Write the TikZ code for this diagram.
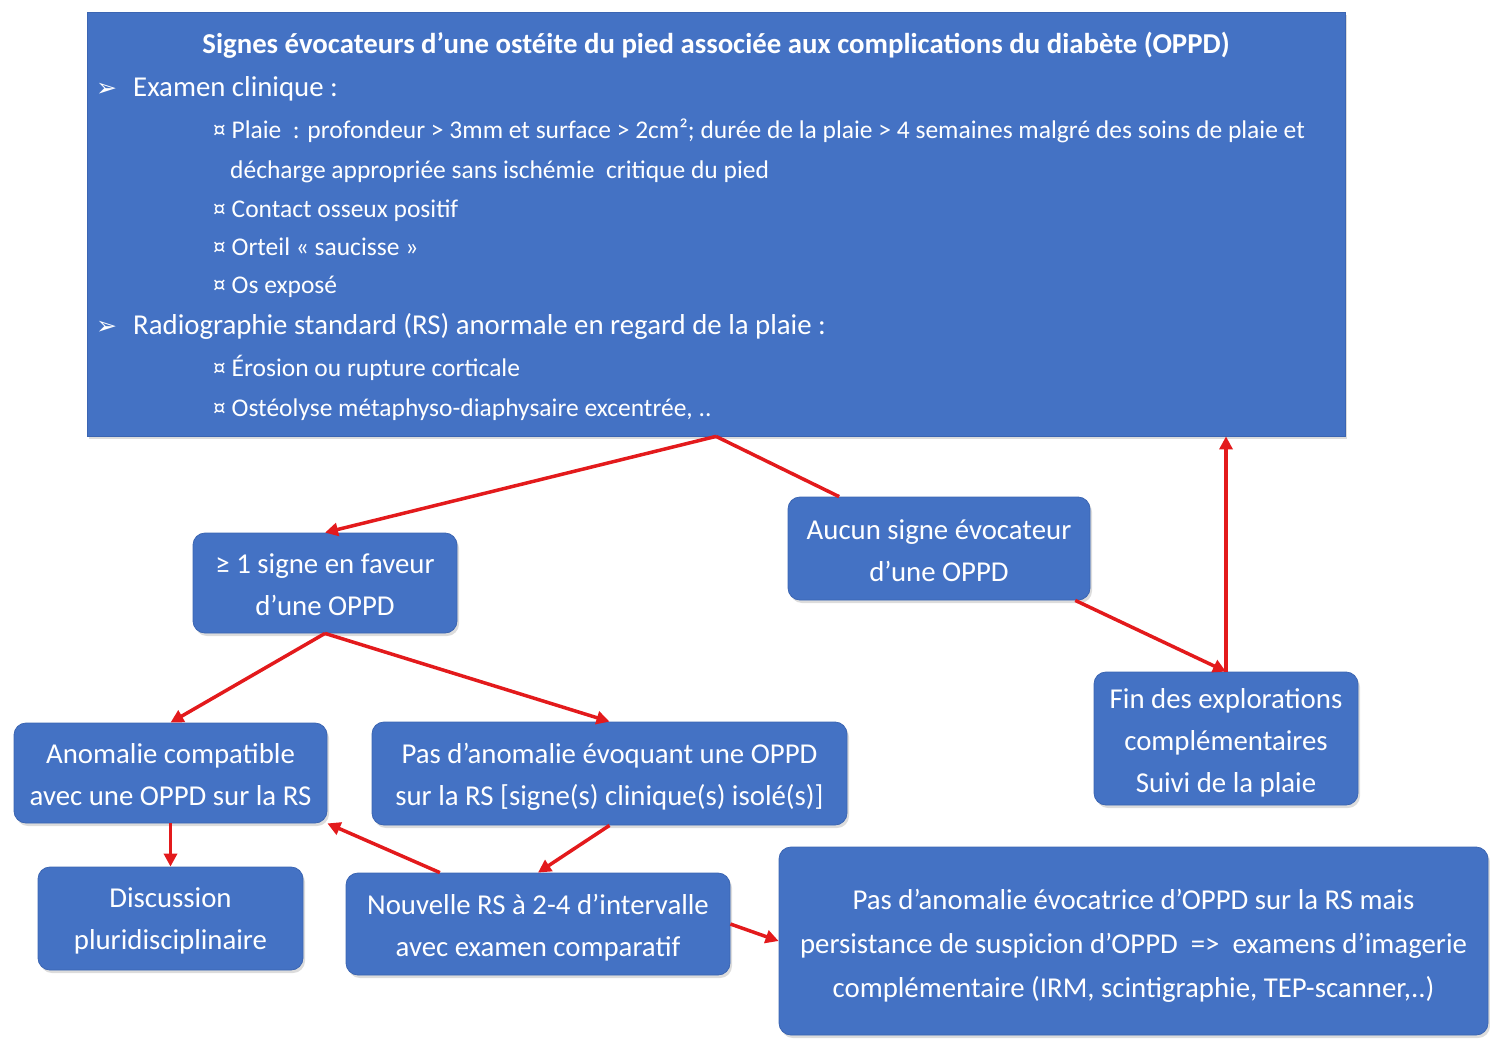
\documentclass[tikz,border=0pt]{standalone}
\usepackage{fontspec}
\setmainfont{Carlito}
\newfontfamily\symfont{DejaVu Sans}
\usetikzlibrary{arrows.meta,calc,shadows}
\definecolor{boxblue}{HTML}{4472C4}
\definecolor{boxedge}{HTML}{3B65B2}
\definecolor{arrowred}{HTML}{E31A1C}

\begin{document}
\begin{tikzpicture}[x=1pt,y=-1pt,
  shade box/.style={fill=boxblue, draw=boxedge, line width=0.8pt, text=white,
    inner sep=0pt, drop shadow={opacity=0.28, shadow xshift=2pt, shadow yshift=-3pt}},
  box/.style={shade box, rounded corners=12pt},
  boxtext/.style={text=white, inner sep=0pt, align=center,
    font=\fontsize{28.8}{42}\selectfont},
  txtline/.style={anchor=base west, text=white, inner sep=0pt},
  head/.style={txtline, font=\fontsize{28.8}{34}\selectfont},
  subitem/.style={txtline, font=\fontsize{25.5}{30}\selectfont},
  bullet/.style={txtline, font=\symfont\fontsize{25}{30}\selectfont},
  link/.style={draw=arrowred, line width=3.5pt},
  flow/.style={link, -{Triangle[length=13pt,width=13pt]}}]

\useasboundingbox (0,0) rectangle (1490,1038);

% criteria panel
\node[shade box, minimum width=1258pt, minimum height=424pt] (top) at (716,224) {};
\node[anchor=base, text=white, inner sep=0pt, font=\bfseries\fontsize{28.8}{34}\selectfont] (title) at (716,54)
  {Signes évocateurs d’une ostéite du pied associée aux complications du diabète (OPPD)};
\node[bullet] (b1) at (96,97) {➢};
\node[head] (exam) at (133,97) {Examen clinique :};
\node[subitem] (i1) at (213,139) {¤ Plaie \ : profondeur > 3mm et surface > 2cm²; durée de la plaie > 4 semaines malgré des soins de plaie et};
\node[subitem] (i1b) at (230,178) {décharge appropriée sans ischémie \ critique du pied};
\node[subitem] (i2) at (213,217) {¤ Contact osseux positif};
\node[subitem] (i3) at (213,255) {¤ Orteil « saucisse »};
\node[subitem] (i4) at (213,293) {¤ Os exposé};
\node[bullet] (b2) at (96,334) {➢};
\node[head] (radio) at (133,334) {Radiographie standard (RS) anormale en regard de la plaie :};
\node[subitem] (i5) at (213,376) {¤ Érosion ou rupture corticale};
\node[subitem] (i6) at (213,416) {¤ Ostéolyse métaphyso-diaphysaire excentrée, ..};

% decision boxes
\node[box, minimum width=264pt, minimum height=100pt] (signe) at (325,583) {};
\node[box, minimum width=302pt, minimum height=103pt] (aucun) at (939,548.5) {};
\node[box, minimum width=313pt, minimum height=100pt] (anom) at (170.5,773) {};
\node[box, minimum width=475pt, minimum height=103pt] (pas) at (609.5,773.5) {};
\node[box, minimum width=264pt, minimum height=133pt] (fin) at (1226,738.5) {};
\node[box, minimum width=265pt, minimum height=103pt] (disc) at (170.5,918.5) {};
\node[box, minimum width=384pt, minimum height=102pt] (nouv) at (538,924) {};
\node[box, minimum width=709pt, minimum height=188pt] (big) at (1133.5,941) {};

% box texts
\node[boxtext] (signe-t) at ([yshift=-2pt]signe.center) {≥ 1 signe en faveur\\d’une OPPD};
\node[boxtext] (aucun-t) at ([yshift=-2pt]aucun.center) {Aucun signe évocateur\\d’une OPPD};
\node[boxtext] (anom-t) at ([yshift=-2pt]anom.center) {Anomalie compatible\\avec une OPPD sur la RS};
\node[boxtext] (pas-t) at ([yshift=-3pt]pas.center) {Pas d’anomalie évoquant une OPPD\\sur la RS [signe(s) clinique(s) isolé(s)]};
\node[boxtext] (fin-t) at ([yshift=-4pt]fin.center) {Fin des explorations\\complémentaires\\Suivi de la plaie};
\node[boxtext] (disc-t) at ([yshift=-2pt]disc.center) {Discussion\\pluridisciplinaire};
\node[boxtext] (nouv-t) at ([yshift=-4pt]nouv.center) {Nouvelle RS à 2-4 d’intervalle\\avec examen comparatif};
\node[boxtext, font=\fontsize{28.8}{44}\selectfont] (big-t) at ([yshift=-5pt]big.center)
  {Pas d’anomalie évocatrice d’OPPD sur la RS mais\\persistance de suspicion d’OPPD \ => \ examens d’imagerie\\complémentaire (IRM, scintigraphie, TEP-scanner,..)};

% connectors
\draw[flow] (top.south) -- (signe.north);
\draw[link] (top.south) -- ($(aucun.north west)!0.17!(aucun.north east)$);
\draw[flow] (signe.south) -- (anom.north);
\draw[flow] (signe.south) -- (pas.north);
\draw[flow] (anom.south) -- (disc.north);
\draw[flow] (pas.south) -- (nouv.north);
\draw[flow] ($(nouv.north west)!0.245!(nouv.north east)$) -- (anom.south east);
\draw[flow] (nouv.east) -- (big.west);
\draw[flow] ($(aucun.south west)!0.95!(aucun.south east)$) -- (fin.north);
\draw[flow] (fin.north) -- (fin.north |- top.south);
\end{tikzpicture}
\end{document}
